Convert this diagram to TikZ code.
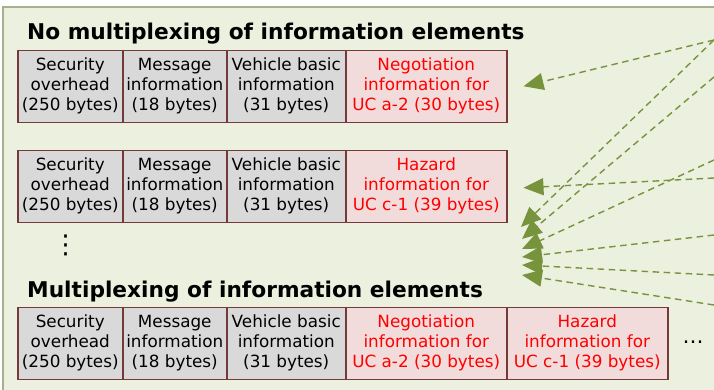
\documentclass[tikz,border=0pt]{standalone}
\usepackage{fontspec}
\setmainfont{DejaVu Sans}
\usetikzlibrary{arrows.meta}
\definecolor{panelfill}{HTML}{EBF0DF}
\definecolor{panelline}{HTML}{A6B08A}
\definecolor{grayfill}{HTML}{D9D9D9}
\definecolor{pinkfill}{HTML}{F2DCDB}
\definecolor{boxline}{HTML}{733A39}
\definecolor{arrowgreen}{HTML}{77933C}
\definecolor{redtext}{HTML}{FF0000}
\begin{document}
\begin{tikzpicture}[x=1pt,y=-1pt,
  field/.style={draw=boxline, line width=1.5pt, anchor=north west, inner sep=0pt,
    minimum height=72pt, align=center, font=\fontsize{16.8}{20}\selectfont},
  grayfield/.style={field, fill=grayfill, text=black},
  pinkfield/.style={field, fill=pinkfill, text=redtext},
  heading/.style={anchor=base west, inner sep=0pt, font=\fontsize{21.7}{24}\selectfont\bfseries},
  link/.style={draw=arrowgreen, line width=1.4pt, dash pattern=on 6.5pt off 4.5pt,
    -{Triangle[length=20pt,width=17pt,fill=arrowgreen]}}
]
\useasboundingbox (0,0) rectangle (714,389);
\fill[white] (0,0) rectangle (714,389);
\filldraw[fill=panelfill, draw=panelline, line width=1.5pt] (3,7) rectangle (730,400);

% headings
\node[heading] (t1) at (27,39) {No multiplexing of information elements};
\node[heading] (t2) at (27,297) {Multiplexing of information elements};

% row 1
\node[grayfield, minimum width=105pt] (n1sec) at (17,49.5) {Security\\overhead\\(250 bytes)};
\node[grayfield, minimum width=104pt] (n1msg) at (122,49.5) {Message\\information\\(18 bytes)};
\node[grayfield, minimum width=119pt] (n1veh) at (226,49.5) {Vehicle basic\\information\\(31 bytes)};
\node[pinkfield, minimum width=161pt] (n1neg) at (345,49.5) {Negotiation\\information for\\UC a-2 (30 bytes)};

% row 2
\node[grayfield, minimum width=105pt] (n2sec) at (17,149.5) {Security\\overhead\\(250 bytes)};
\node[grayfield, minimum width=104pt] (n2msg) at (122,149.5) {Message\\information\\(18 bytes)};
\node[grayfield, minimum width=119pt] (n2veh) at (226,149.5) {Vehicle basic\\information\\(31 bytes)};
\node[pinkfield, minimum width=161pt] (n2haz) at (345,149.5) {Hazard\\information for\\UC c-1 (39 bytes)};

% row 3
\node[grayfield, minimum width=105pt] (n3sec) at (17,306.5) {Security\\overhead\\(250 bytes)};
\node[grayfield, minimum width=104pt] (n3msg) at (122,306.5) {Message\\information\\(18 bytes)};
\node[grayfield, minimum width=119pt] (n3veh) at (226,306.5) {Vehicle basic\\information\\(31 bytes)};
\node[pinkfield, minimum width=161pt] (n3neg) at (345,306.5) {Negotiation\\information for\\UC a-2 (30 bytes)};
\node[pinkfield, minimum width=161pt] (n3haz) at (506,306.5) {Hazard\\information for\\UC c-1 (39 bytes)};

% ellipses
\node[anchor=base, inner sep=0pt, font=\fontsize{26}{26}\selectfont] (vdots) at (65.5,253) {⋮};
\node[anchor=base, inner sep=0pt, font=\fontsize{21}{24}\selectfont] (hdots) at (693,343) {…};

% free ends of the connectors
\coordinate (o1) at (714,40);
\coordinate (o2) at (714,77);
\coordinate (o3) at (714,160);
\coordinate (o4) at (714,178);
\coordinate (o5) at (714,235);
\coordinate (o6) at (714,275);
\coordinate (o7) at (714,305);
\coordinate (e1) at (521,227);
\coordinate (e2) at (522,239);
\coordinate (e3) at (522,249);
\coordinate (e4) at (522,257);
\coordinate (e5) at (522,265);
\coordinate (e6) at (522,275);

\draw[link] (o1) -- ([xshift=16pt]n1neg.east);
\draw[link] (o4) -- ([xshift=16pt,yshift=-1.5pt]n2haz.east);
\draw[link] (o1) -- (e1);
\draw[link] (o2) -- (e2);
\draw[link] (o3) -- (e3);
\draw[link] (o5) -- (e4);
\draw[link] (o6) -- (e5);
\draw[link] (o7) -- (e6);
\end{tikzpicture}
\end{document}
